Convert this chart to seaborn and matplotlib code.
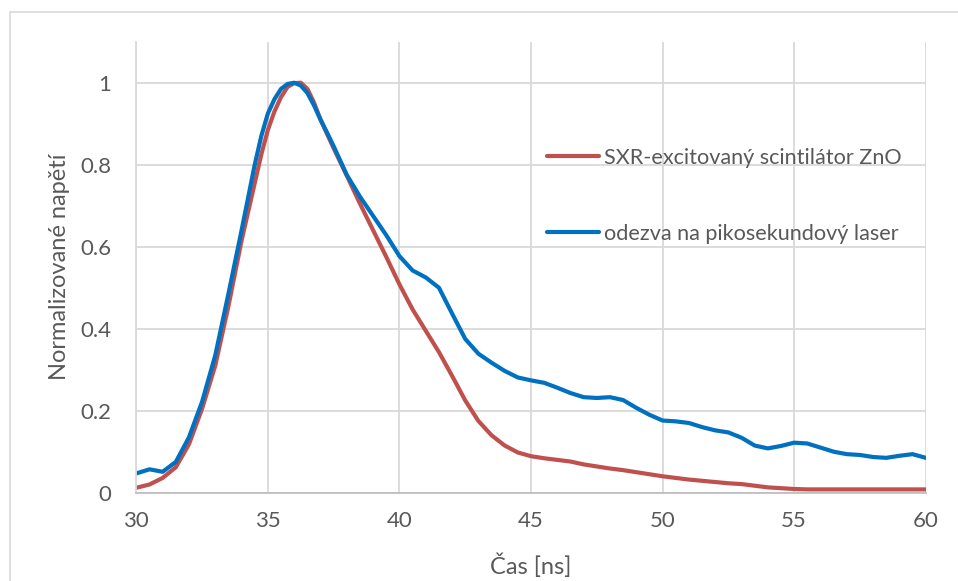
import numpy as np
import pandas as pd
import matplotlib
matplotlib.use("Agg")
import matplotlib.pyplot as plt
from matplotlib.patches import Rectangle
import seaborn as sns

time_ns = [30.0, 30.5, 31.0, 31.5, 32.0, 32.5, 33.0, 33.5, 34.0, 34.5,
           34.75, 35.0, 35.25, 35.5, 35.75, 36.0, 36.25, 36.5, 36.75, 37.0,
           37.25, 37.5, 38.0, 38.5, 39.0, 39.5,
           40.0, 40.5, 41.0, 41.5, 42.0, 42.5, 43.0, 43.5, 44.0, 44.5,
           45.0, 45.5, 46.0, 46.5, 47.0, 47.5, 48.0, 48.5, 49.0, 49.5,
           50.0, 50.5, 51.0, 51.5, 52.0, 52.5, 53.0, 53.5, 54.0, 54.5,
           55.0, 55.5, 56.0, 56.5, 57.0, 57.5, 58.0, 58.5, 59.0, 59.5, 60.0]

sxr_zno = [0.012, 0.020, 0.036, 0.062, 0.118, 0.205, 0.310, 0.455, 0.615, 0.755,
           0.825, 0.885, 0.930, 0.965, 0.990, 0.999, 1.000, 0.985, 0.952, 0.910,
           0.875, 0.840, 0.773, 0.705, 0.640, 0.575,
           0.508, 0.447, 0.395, 0.343, 0.285, 0.225, 0.175, 0.140, 0.115, 0.098,
           0.089, 0.084, 0.080, 0.076, 0.069, 0.064, 0.059, 0.055, 0.050, 0.045,
           0.040, 0.036, 0.032, 0.029, 0.026, 0.023, 0.021, 0.017, 0.013, 0.011,
           0.009, 0.008, 0.008, 0.008, 0.008, 0.008, 0.008, 0.008, 0.008, 0.008, 0.008]

laser = [0.047, 0.057, 0.051, 0.075, 0.135, 0.222, 0.335, 0.485, 0.640, 0.800,
         0.870, 0.925, 0.960, 0.985, 0.997, 1.000, 0.993, 0.975, 0.945, 0.910,
         0.878, 0.845, 0.775, 0.722, 0.675, 0.628,
         0.577, 0.542, 0.525, 0.500, 0.437, 0.375, 0.339, 0.317, 0.297, 0.281,
         0.274, 0.268, 0.256, 0.243, 0.233, 0.231, 0.233, 0.226, 0.207, 0.190,
         0.176, 0.174, 0.170, 0.160, 0.152, 0.147, 0.134, 0.115, 0.108, 0.114,
         0.122, 0.120, 0.110, 0.100, 0.094, 0.092, 0.087, 0.085, 0.090, 0.094, 0.085]

series_names = ["SXR-excitovaný scintilátor ZnO", "odezva na pikosekundový laser"]
x_ticks = [30, 35, 40, 45, 50, 55, 60]
y_ticks = [0, 0.2, 0.4, 0.6, 0.8, 1.0]
y_tick_labels = ["0", "0.2", "0.4", "0.6", "0.8", "1"]

df = pd.DataFrame({
    "t": time_ns * 2,
    "v": sxr_zno + laser,
    "s": [series_names[0]] * len(time_ns) + [series_names[1]] * len(time_ns),
})

sns.set_theme(style="white")
plt.rcParams["font.family"] = ["Lato", "DejaVu Sans"]

text_color = "#595959"
grid_color = "#D9D9D9"

fig = plt.figure(figsize=(9.58, 5.81), dpi=100)
ax = fig.add_axes([0.1423, 0.152, 0.9663 - 0.1423, 0.9282 - 0.152])

sns.lineplot(data=df, x="t", y="v", hue="s", ax=ax,
             palette={series_names[0]: "#C0504D", series_names[1]: "#0070C0"},
             linewidth=3.0, legend=True)
for ln in ax.get_lines():
    ln.set_solid_joinstyle("round")
    ln.set_solid_capstyle("round")

ax.set_xlim(30, 60)
ax.set_ylim(0, 1.1)
ax.set_xticks(x_ticks)
ax.set_xticklabels([str(v) for v in x_ticks])
ax.set_yticks(y_ticks)
ax.set_yticklabels(y_tick_labels)
ax.grid(True, color=grid_color, linewidth=1.3)
ax.set_axisbelow(True)
ax.tick_params(axis="both", length=0, labelsize=16, colors=text_color)
ax.tick_params(axis="x", pad=13)
ax.tick_params(axis="y", pad=18)

for side in ["top", "right"]:
    ax.spines[side].set_visible(False)
ax.spines["left"].set_color(grid_color)
ax.spines["left"].set_linewidth(1.3)
ax.spines["bottom"].set_color("#BFBFBF")
ax.spines["bottom"].set_linewidth(1.3)

ax.set_xlabel("Čas [ns]", fontsize=17, color=text_color)
ax.set_ylabel("Normalizované napětí", fontsize=17, color=text_color)
ax.xaxis.set_label_coords(0.499, -0.135)
ax.yaxis.set_label_coords(-0.084, 0.5)

leg = ax.legend(loc="upper left", bbox_to_anchor=(0.52, 0.765), frameon=False,
                fontsize=15.6, handlelength=2.4, handletextpad=0.25,
                labelspacing=2.6, borderpad=0, borderaxespad=0)
for t in leg.get_texts():
    t.set_color(text_color)
for h in leg.get_lines():
    h.set_linewidth(3.0)

fig.patches.append(Rectangle((9.5 / 958, -0.5), 2.0, 0.5 + (1 - 12.3 / 581),
                             transform=fig.transFigure, fill=False,
                             edgecolor=grid_color, linewidth=1.2))

fig.savefig("out.png", dpi=100)
